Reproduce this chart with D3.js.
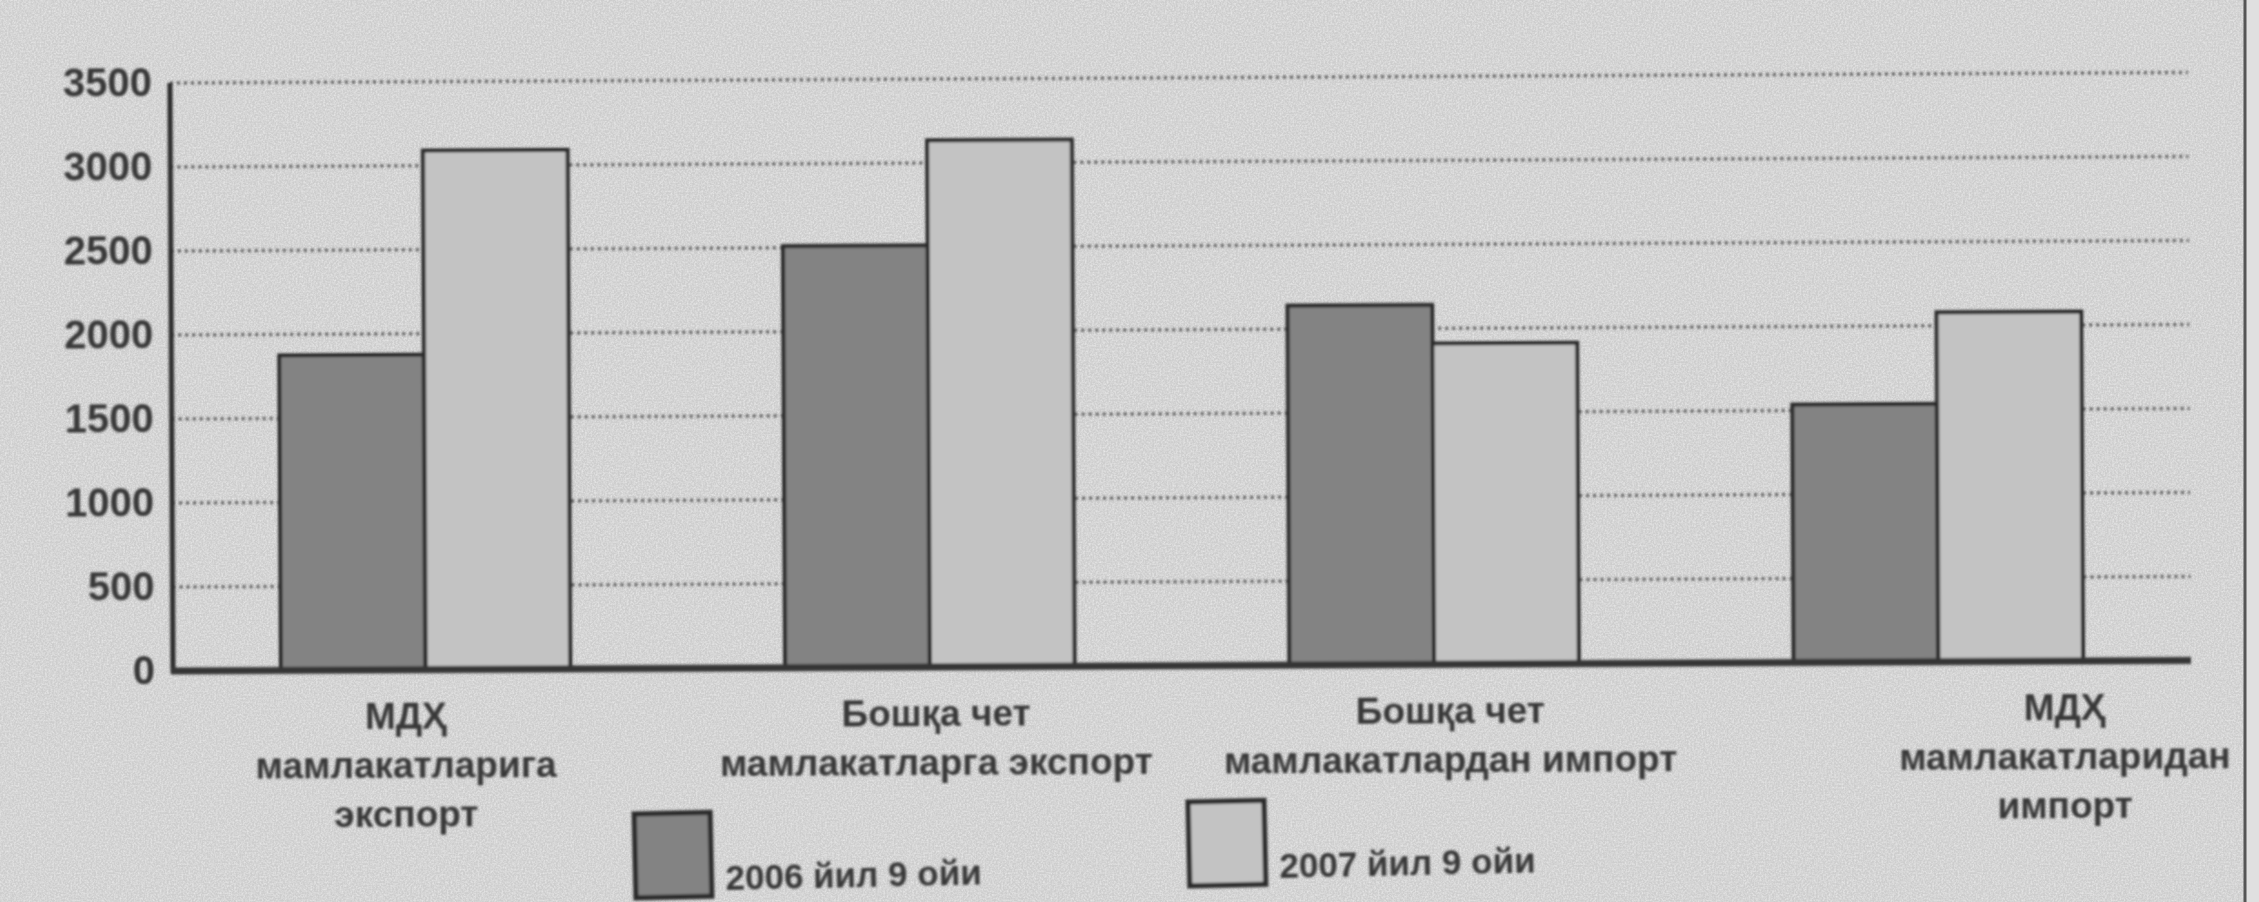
<!DOCTYPE html>
<html>
<head>
<meta charset="utf-8">
<script src="https://cdn.jsdelivr.net/npm/d3@7"></script>
<style>
  html, body { margin: 0; padding: 0; background: #d2d2d2; }
  text { font-family: "Liberation Sans", Arial, sans-serif; font-weight: bold; fill: #383838; }
</style>
</head>
<body>
<script>
// ---- data ----
var categories = [
  ["МДҲ", "мамлакатларига", "экспорт"],
  ["Бошқа чет", "мамлакатларга экспорт"],
  ["Бошқа чет", "мамлакатлардан импорт"],
  ["МДҲ", "мамлакатларидан", "импорт"]
];
var seriesNames = ["2006 йил 9 ойи", "2007 йил 9 ойи"];
var values2006 = [1875, 2510, 2140, 1535];
var values2007 = [3090, 3135, 1910, 2080];
var yTicks = [0, 500, 1000, 1500, 2000, 2500, 3000, 3500];

// ---- layout ----
var W = 2259, H = 902;
var plotLeft = 173, plotRight = 2191, plotTop = 83, plotBottom = 671;
var labelShift = [-20, 6, 16, 126];
var fills = ["#838383", "#c3c3c3"];

var svg = d3.select("body").append("svg")
  .attr("width", W).attr("height", H);

var defs = svg.append("defs");
var paper = defs.append("filter").attr("id", "paper")
  .attr("x", 0).attr("y", 0).attr("width", 1).attr("height", 1);
paper.append("feTurbulence").attr("type", "fractalNoise")
  .attr("baseFrequency", 0.55).attr("numOctaves", 2).attr("seed", 4);
paper.append("feColorMatrix").attr("type", "matrix")
  .attr("values", "0 0 0 0 0.9  0 0 0 0 0.9  0 0 0 0 0.9  0 0 0 -1.2 0.8");
defs.append("filter").attr("id", "soft")
  .append("feGaussianBlur").attr("stdDeviation", 0.9);

svg.append("rect").attr("width", W).attr("height", H).attr("fill", "#cdcdcd");
svg.append("rect").attr("width", W).attr("height", H).attr("filter", "url(#paper)");

// right frame of the clipping
svg.append("rect").attr("x", 2245).attr("y", 0).attr("width", W - 2245).attr("height", H)
  .attr("fill", "#e0e0e0");
svg.append("line").attr("x1", 2245).attr("x2", 2245).attr("y1", 0).attr("y2", H)
  .attr("stroke", "#555").attr("stroke-width", 3);

var g = svg.append("g")
  .attr("filter", "url(#soft)")
  .attr("transform", "rotate(-0.3," + plotLeft + "," + plotBottom + ")");

var y = d3.scaleLinear().domain([0, 3500]).range([plotBottom, plotTop]);
var x0 = d3.scaleBand().domain(d3.range(categories.length))
  .range([plotLeft, plotRight]).paddingInner(0.426).paddingOuter(0.214);
var x1 = d3.scaleBand().domain([0, 1]).range([0, x0.bandwidth()]);

// dotted gridlines
g.append("g").selectAll("line")
  .data(yTicks.filter(function (d) { return d > 0; }))
  .enter().append("line")
  .attr("x1", plotLeft).attr("x2", plotRight)
  .attr("y1", function (d) { return y(d); })
  .attr("y2", function (d) { return y(d); })
  .attr("stroke", "#555").attr("stroke-width", 3)
  .attr("stroke-dasharray", "3,4");

// y axis labels
var yAxis = g.append("g").attr("transform", "translate(" + plotLeft + ",0)")
  .call(d3.axisLeft(y).tickValues(yTicks).tickFormat(d3.format("d"))
    .tickSize(0).tickPadding(18));
yAxis.select(".domain").remove();
yAxis.selectAll("text")
  .attr("font-size", 40).attr("dy", "0.3em")
  .style("font-family", "'Liberation Sans', Arial, sans-serif")
  .style("font-weight", "bold").attr("fill", "#383838");

// bars
var series = [values2006, values2007];
var groups = g.append("g").selectAll("g")
  .data(categories).enter().append("g")
  .attr("transform", function (d, i) { return "translate(" + x0(i) + ",0)"; });

groups.selectAll("rect")
  .data(function (d, i) { return series.map(function (s, k) { return { k: k, v: s[i] }; }); })
  .enter().append("rect")
  .attr("x", function (d) { return x1(d.k); })
  .attr("y", function (d) { return y(d.v); })
  .attr("width", x1.bandwidth())
  .attr("height", function (d) { return y(0) - y(d.v); })
  .attr("fill", function (d) { return fills[d.k]; })
  .attr("stroke", "#2a2a2a").attr("stroke-width", 4);

// axes lines
g.append("line").attr("x1", plotLeft).attr("x2", plotLeft).attr("y1", plotTop).attr("y2", plotBottom + 2)
  .attr("stroke", "#2a2a2a").attr("stroke-width", 5);
g.append("line").attr("x1", plotLeft - 2).attr("x2", plotRight).attr("y1", plotBottom).attr("y2", plotBottom)
  .attr("stroke", "#363636").attr("stroke-width", 7);

// category labels
g.append("g").selectAll("text")
  .data(categories).enter().append("text")
  .attr("text-anchor", "middle")
  .attr("font-size", 37)
  .attr("y", 730)
  .each(function (lines, i) {
    var t = d3.select(this);
    var cx = x0(i) + x0.bandwidth() / 2 + labelShift[i];
    lines.forEach(function (s, j) {
      t.append("tspan").attr("x", cx).attr("dy", j === 0 ? 0 : 49).text(s);
    });
  });

// legend
var legend = svg.append("g")
  .attr("filter", "url(#soft)")
  .attr("transform", "rotate(-1.24,633,855)");
var items = legend.selectAll("g").data(seriesNames).enter().append("g")
  .attr("transform", function (d, i) { return "translate(" + (635 + i * 554) + ",814)"; });
items.append("rect")
  .attr("width", 76).attr("height", 84)
  .attr("fill", function (d, i) { return fills[i]; })
  .attr("stroke", "#2a2a2a").attr("stroke-width", 5);
items.append("text")
  .attr("x", 90).attr("y", 78)
  .attr("font-size", 35)
  .text(function (d) { return d; });
</script>
</body>
</html>
